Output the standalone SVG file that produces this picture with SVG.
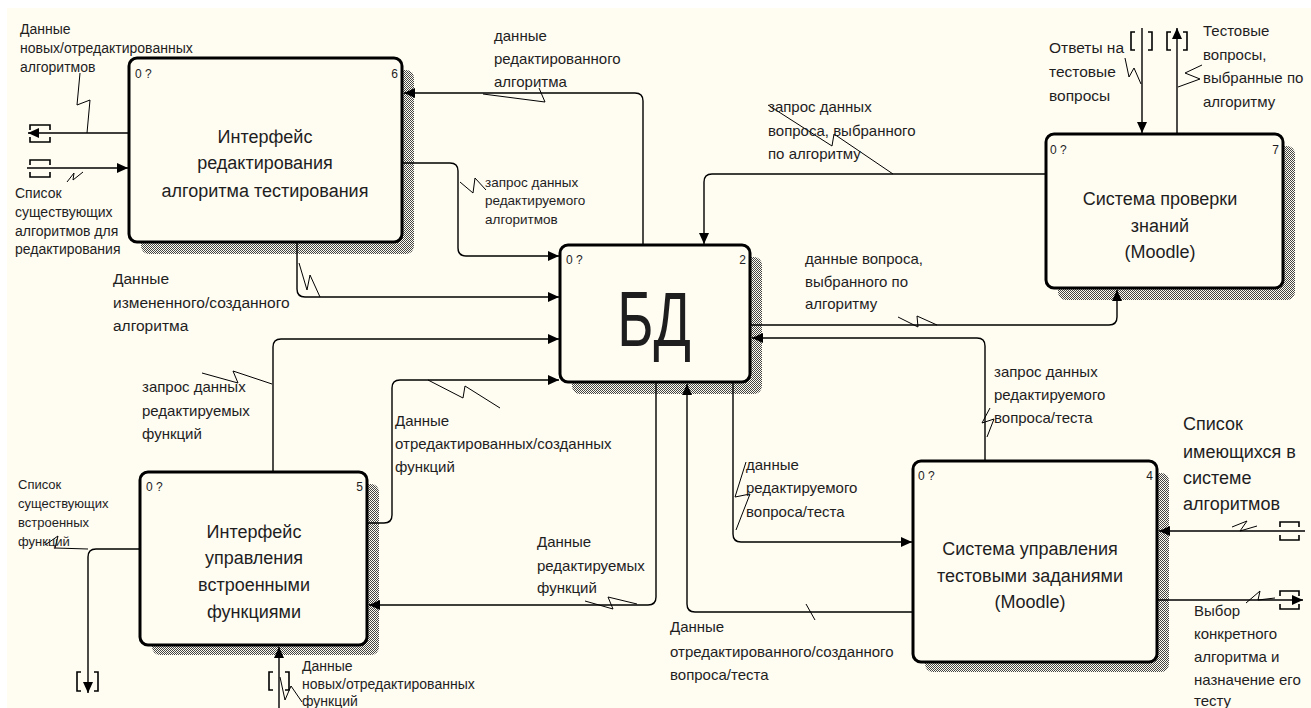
<svg xmlns="http://www.w3.org/2000/svg" width="1311" height="708" viewBox="0 0 1311 708">
<style>
.bg{fill:#fffcf2}
.box{fill:#fffcf2;stroke:#000;stroke-width:3}
.sh{fill:url(#hatch)}
.t{font-family:"Liberation Sans",Arial,sans-serif;fill:#1e1e1e}
.title{font-size:18px;text-anchor:middle}
.id{font-size:12px}
.idr{font-size:12px;text-anchor:end}
.c{fill:none;stroke:#000;stroke-width:1.4}
.sq{fill:none;stroke:#000;stroke-width:1}
.br{fill:none;stroke:#000;stroke-width:1.6}
</style>
<defs>
<pattern id="hatch" width="2" height="2" patternUnits="userSpaceOnUse">
<rect width="2" height="2" fill="#fffcf2"/>
<rect x="0" y="0" width="1" height="1" fill="#444"/>
<rect x="1" y="1" width="1" height="1" fill="#444"/>
</pattern>
<marker id="ah" markerUnits="userSpaceOnUse" markerWidth="12" markerHeight="10" refX="11" refY="5" orient="auto">
<path d="M0,0 L11,5 L0,10 z" fill="#000"/>
</marker>
</defs>
<rect x="0" y="0" width="1311" height="708" fill="#ffffff"/>
<rect class="bg" x="7" y="8" width="1304" height="700"/>

<g id="node-6">
<rect class="sh" x="141" y="70" width="273" height="184" rx="8"/>
<rect class="box" x="129" y="58" width="273" height="184" rx="8"/>
<text class="t id" x="135" y="78">0 ?</text>
<text class="t idr" x="398" y="78">6</text>
<text class="t title"><tspan x="265" y="143">Интерфейс</tspan><tspan x="265" y="169">редактирования</tspan><tspan x="265" y="197">алгоритма тестирования</tspan></text>
</g>

<g id="node-2">
<rect class="sh" x="572" y="257" width="190" height="137" rx="8"/>
<rect class="box" x="560" y="245" width="190" height="137" rx="8"/>
<text class="t id" x="566" y="264">0 ?</text>
<text class="t idr" x="746" y="264">2</text>
<text class="t" x="0" y="0" font-size="60" text-anchor="middle" transform="translate(654,346) scale(0.92,1.3)">БД</text>
</g>

<g id="node-7">
<rect class="sh" x="1058" y="146" width="237" height="154" rx="8"/>
<rect class="box" x="1046" y="134" width="237" height="154" rx="8"/>
<text class="t id" x="1050" y="154">0 ?</text>
<text class="t idr" x="1279" y="154">7</text>
<text class="t title"><tspan x="1160" y="205">Система проверки</tspan><tspan x="1160" y="232">знаний</tspan><tspan x="1160" y="258">(Moodle)</tspan></text>
</g>

<g id="node-5">
<rect class="sh" x="152" y="484" width="227" height="171" rx="8"/>
<rect class="box" x="140" y="472" width="227" height="173" rx="8"/>
<text class="t id" x="146" y="491">0 ?</text>
<text class="t idr" x="363" y="491">5</text>
<text class="t title"><tspan x="254" y="538">Интерфейс</tspan><tspan x="254" y="564">управления</tspan><tspan x="254" y="591">встроенными</tspan><tspan x="254" y="618">функциями</tspan></text>
</g>

<g id="node-4">
<rect class="sh" x="925" y="473" width="244" height="199" rx="8"/>
<rect class="box" x="913" y="461" width="244" height="201" rx="8"/>
<text class="t id" x="918" y="480">0 ?</text>
<text class="t idr" x="1153" y="480">4</text>
<text class="t title"><tspan x="1030" y="555">Система управления</tspan><tspan x="1030" y="582">тестовыми заданиями</tspan><tspan x="1030" y="608">(Moodle)</tspan></text>
</g>

<g id="connectors">
<!-- C1 -->
<path class="c" d="M129,133 H28" marker-end="url(#ah)"/>
<path class="br" d="M30,130 V125 H50 V130 M30,137 V142 H50 V137"/>
<polyline class="sq" points="80,73 77,105 90,100 87,133"/>
<!-- C2 -->
<path class="c" d="M27,168 H128" marker-end="url(#ah)"/>
<path class="br" d="M30,165 V160 H50 V165 M30,172 V177 H50 V172"/>
<polyline class="sq" points="67,182 74,173 73,180 83,172"/>
<!-- C3 -->
<path class="c" d="M643,245 V101 Q643,93 635,93 H404" marker-end="url(#ah)"/>
<polyline class="sq" points="483,94 545,102 539,88"/>
<!-- C4 -->
<path class="c" d="M402,163 H450 Q458,163 458,171 V248 Q458,256 466,256 H559" marker-end="url(#ah)"/>
<polyline class="sq" points="460,182 473,193 475,178 486,190"/>
<!-- C5 -->
<path class="c" d="M297,242 V289 Q297,297 305,297 H559" marker-end="url(#ah)"/>
<polyline class="sq" points="299,263 307,290 310,275 320,297"/>
<!-- C6 -->
<path class="c" d="M1046,174 H712 Q704,174 704,182 V244" marker-end="url(#ah)"/>
<polyline class="sq" points="768,105 832,146 834,134 893,174"/>
<!-- C7 -->
<path class="c" d="M750,325 H1109 Q1117,325 1117,317 V290" marker-end="url(#ah)"/>
<polyline class="sq" points="898,317 918,327 917,316 937,325"/>
<!-- C8 -->
<path class="c" d="M1142,28 V133" marker-end="url(#ah)"/>
<path class="br" d="M1135,32 H1131 V50 H1135 M1148,32 H1152 V50 H1148"/>
<polyline class="sq" points="1125,58 1129,77 1134,68 1141,84"/>
<!-- C9 -->
<path class="c" d="M1177,134 V28" marker-end="url(#ah)"/>
<path class="br" d="M1171,32 H1167 V50 H1171 M1183,32 H1187 V50 H1183"/>
<polyline class="sq" points="1178,87 1200,79 1185,73 1202,65"/>
<!-- C10 -->
<path class="c" d="M985,461 V346 Q985,338 977,338 H752" marker-end="url(#ah)"/>
<polyline class="sq" points="990,408 982,423 994,419 987,437"/>
<!-- C11 -->
<path class="c" d="M733,382 V534 Q733,542 741,542 H912" marker-end="url(#ah)"/>
<polyline class="sq" points="746,462 735,497 750,494 736,530"/>
<!-- C12 -->
<path class="c" d="M913,612 H695 Q687,612 687,604 V384" marker-end="url(#ah)"/>
<polyline class="sq" points="806,604 815,620"/>
<!-- C13 -->
<path class="c" d="M656,382 V597 Q656,605 648,605 H369" marker-end="url(#ah)"/>
<polyline class="sq" points="585,601 613,609 608,597 637,604"/>
<!-- C14 -->
<path class="c" d="M367,523 H384 Q392,523 392,515 V388 Q392,380 400,380 H559" marker-end="url(#ah)"/>
<polyline class="sq" points="428,380 463,398 465,386 500,408"/>
<!-- C15 -->
<path class="c" d="M273,472 V347 Q273,339 281,339 H559" marker-end="url(#ah)"/>
<polyline class="sq" points="202,373 238,383 233,371 272,384"/>
<!-- C16 -->
<path class="c" d="M140,549 H96 Q88,549 88,557 V693" marker-end="url(#ah)"/>
<path class="br" d="M81,672 H77 V691 H81 M94,672 H98 V691 H94"/>
<polyline class="sq" points="45,545 58,536 55,548 88,549"/>
<!-- C17 -->
<path class="c" d="M279,708 V647" marker-end="url(#ah)"/>
<path class="br" d="M273,672 H269 V690 H273 M285,672 H289 V690 H285"/>
<polyline class="sq" points="280,677 285,700 291,686 302,702"/>
<!-- C18 -->
<path class="c" d="M1305,531 H1159" marker-end="url(#ah)"/>
<path class="br" d="M1280,527 V522 H1299 V527 M1280,535 V540 H1299 V535"/>
<polyline class="sq" points="1232,527 1247,521 1240,531 1257,526"/>
<!-- C19 -->
<path class="c" d="M1157,600 H1303" marker-end="url(#ah)"/>
<path class="br" d="M1280,596 V591 H1299 V596 M1280,604 V609 H1299 V604"/>
<polyline class="sq" points="1246,603 1260,591 1258,600 1275,598"/>

<g id="labels">
<text class="t" font-size="14"><tspan x="20" y="34">Данные</tspan><tspan x="20" y="53">новых/отредактированных</tspan><tspan x="20" y="72">алгоритмов</tspan></text>
<text class="t" font-size="14"><tspan x="15" y="198">Список</tspan><tspan x="15" y="217">существующих</tspan><tspan x="15" y="236">алгоритмов для</tspan><tspan x="15" y="254">редактирования</tspan></text>
<text class="t" font-size="15"><tspan x="494" y="41">данные</tspan><tspan x="494" y="64">редактированного</tspan><tspan x="494" y="87">алгоритма</tspan></text>
<text class="t" font-size="13.5"><tspan x="485" y="187">запрос данных</tspan><tspan x="485" y="205">редактируемого</tspan><tspan x="485" y="224">алгоритмов</tspan></text>
<text class="t" font-size="15.5"><tspan x="113" y="284">Данные</tspan><tspan x="113" y="308">измененного/созданного</tspan><tspan x="113" y="331">алгоритма</tspan></text>
<text class="t" font-size="15"><tspan x="768" y="112">запрос данных</tspan><tspan x="768" y="136">вопроса, выбранного</tspan><tspan x="768" y="159">по алгоритму</tspan></text>
<text class="t" font-size="15"><tspan x="805" y="264">данные вопроса,</tspan><tspan x="805" y="287">выбранного по</tspan><tspan x="805" y="309">алгоритму</tspan></text>
<text class="t" font-size="15.5"><tspan x="1049" y="53">Ответы на</tspan><tspan x="1049" y="77">тестовые</tspan><tspan x="1049" y="101">вопросы</tspan></text>
<text class="t" font-size="15"><tspan x="1203" y="36">Тестовые</tspan><tspan x="1203" y="60">вопросы,</tspan><tspan x="1203" y="83">выбранные по</tspan><tspan x="1203" y="107">алгоритму</tspan></text>
<text class="t" font-size="15"><tspan x="142" y="392">запрос данных</tspan><tspan x="142" y="416">редактируемых</tspan><tspan x="142" y="439">функций</tspan></text>
<text class="t" font-size="15"><tspan x="395" y="426">Данные</tspan><tspan x="395" y="449">отредактированных/созданных</tspan><tspan x="395" y="472">функций</tspan></text>
<text class="t" font-size="13"><tspan x="18" y="489">Список</tspan><tspan x="18" y="508">существующих</tspan><tspan x="18" y="527">встроенных</tspan><tspan x="18" y="546">функций</tspan></text>
<text class="t" font-size="14"><tspan x="302" y="671">Данные</tspan><tspan x="302" y="689">новых/отредактированных</tspan><tspan x="302" y="706">функций</tspan></text>
<text class="t" font-size="15"><tspan x="537" y="547">Данные</tspan><tspan x="537" y="571">редактируемых</tspan><tspan x="537" y="593">функций</tspan></text>
<text class="t" font-size="15"><tspan x="746" y="470">данные</tspan><tspan x="746" y="493">редактируемого</tspan><tspan x="746" y="517">вопроса/теста</tspan></text>
<text class="t" font-size="15"><tspan x="670" y="632">Данные</tspan><tspan x="670" y="657">отредактированного/созданного</tspan><tspan x="670" y="680">вопроса/теста</tspan></text>
<text class="t" font-size="15"><tspan x="994" y="377">запрос данных</tspan><tspan x="994" y="400">редактируемого</tspan><tspan x="994" y="423">вопроса/теста</tspan></text>
<text class="t" font-size="18"><tspan x="1183" y="430">Список</tspan><tspan x="1183" y="458">имеющихся в</tspan><tspan x="1183" y="484">системе</tspan><tspan x="1183" y="510">алгоритмов</tspan></text>
<text class="t" font-size="15"><tspan x="1194" y="616">Выбор</tspan><tspan x="1194" y="639">конкретного</tspan><tspan x="1194" y="662">алгоритма и</tspan><tspan x="1194" y="685">назначение его</tspan><tspan x="1194" y="706">тесту</tspan></text>
</g>
</g>
</svg>
